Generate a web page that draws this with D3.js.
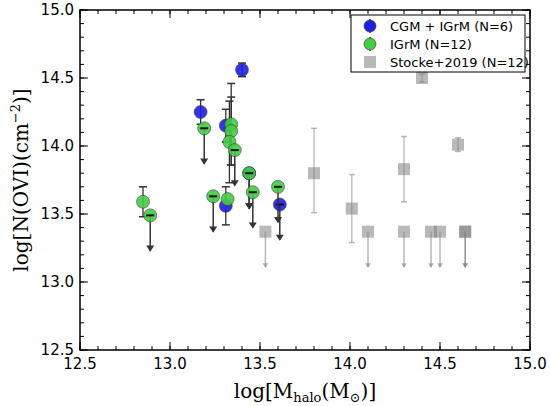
<!DOCTYPE html>
<html><head><meta charset="utf-8">
<script src="https://cdn.jsdelivr.net/npm/d3@7"></script>
<style>body{margin:0;background:#fff}text{font-family:"DejaVu Sans",sans-serif}</style>
</head><body><svg id="c" width="550" height="406"></svg>
<script>
// blue: CGM + IGrM
const blueM = [13.40, 13.17, 13.31, 13.31, 13.44, 13.61];
const blueN = [14.56, 14.25, 14.15, 13.56, 13.80, 13.57];
const blueErr = [0.05, 0.09, 0.12, 0.14, 0, 0];
const blueLim = [0, 0, 0, 0, 1, 1];
const greenM = [12.85, 12.89, 13.19, 13.24, 13.32, 13.34, 13.34, 13.33, 13.36, 13.44, 13.46, 13.60];
const greenN = [13.59, 13.49, 14.13, 13.63, 13.61, 14.16, 14.11, 14.03, 13.97, 13.80, 13.66, 13.70];
const greenErr = [0.11, 0, 0, 0, 0, 0.3, 0.25, 0.3, 0, 0, 0, 0];
const greenLim = [0, 1, 1, 1, 0, 0, 0, 0, 1, 1, 1, 1];
const greyM = [13.53, 13.80, 14.01, 14.10, 14.30, 14.30, 14.40, 14.45, 14.50, 14.60, 14.64, 14.64];
const greyN = [13.37, 13.80, 13.54, 13.37, 13.83, 13.37, 14.50, 13.37, 13.37, 14.01, 13.37, 13.37];
const greyUp = [0, 0.33, 0.25, 0, 0.24, 0, 0.03, 0, 0, 0.05, 0, 0];
const greyDn = [0, 0.29, 0.25, 0, 0.24, 0, 0.03, 0, 0, 0.05, 0, 0];
const greyLim = [1, 0, 0, 1, 0, 1, 0, 1, 1, 0, 1, 1];
const limLen = 0.26;

const svg = d3.select('#c');
const x = d3.scaleLinear().domain([12.5, 15]).range([80, 530]);
const y = d3.scaleLinear().domain([12.5, 15]).range([350, 10]);

// ticks
const major = d3.range(12.5, 15.01, 0.5), minor = d3.range(12.5, 15.01, 0.1);
const g = svg.append('g');
minor.forEach(v => {
  g.append('line').attr('x1', x(v)).attr('x2', x(v)).attr('y1', 350).attr('y2', 346).attr('stroke', '#000');
  g.append('line').attr('x1', x(v)).attr('x2', x(v)).attr('y1', 10).attr('y2', 14).attr('stroke', '#000');
  g.append('line').attr('y1', y(v)).attr('y2', y(v)).attr('x1', 80).attr('x2', 84).attr('stroke', '#000');
  g.append('line').attr('y1', y(v)).attr('y2', y(v)).attr('x1', 530).attr('x2', 526).attr('stroke', '#000');
});
major.forEach(v => {
  g.append('line').attr('x1', x(v)).attr('x2', x(v)).attr('y1', 350).attr('y2', 342).attr('stroke', '#000');
  g.append('line').attr('x1', x(v)).attr('x2', x(v)).attr('y1', 10).attr('y2', 18).attr('stroke', '#000');
  g.append('line').attr('y1', y(v)).attr('y2', y(v)).attr('x1', 80).attr('x2', 88).attr('stroke', '#000');
  g.append('line').attr('y1', y(v)).attr('y2', y(v)).attr('x1', 530).attr('x2', 522).attr('stroke', '#000');
  g.append('text').attr('x', x(v)).attr('y', 369).attr('text-anchor', 'middle').attr('font-size', 15).text(v.toFixed(1));
  g.append('text').attr('x', 74).attr('y', y(v) + 5).attr('text-anchor', 'end').attr('font-size', 15).text(v.toFixed(1));
});

function arrow(px, py0, py1, col, op, head) {
  svg.append('line').attr('x1', px).attr('x2', px).attr('y1', py0).attr('y2', py1).attr('stroke', col).attr('stroke-width', 1.5).attr('opacity', op);
  svg.append('path').attr('d', `M${px - head},${py1 - head * 1.3}L${px + head},${py1 - head * 1.3}L${px},${py1 + 1}Z`).attr('fill', col).attr('opacity', op);
}
function errbar(px, y0, y1, col, op, cap) {
  svg.append('line').attr('x1', px).attr('x2', px).attr('y1', y0).attr('y2', y1).attr('stroke', col).attr('stroke-width', 1.3).attr('opacity', op);
  [y0, y1].forEach(v => svg.append('line').attr('x1', px - cap).attr('x2', px + cap).attr('y1', v).attr('y2', v).attr('stroke', col).attr('stroke-width', 1.5).attr('opacity', op));
}

// grey Stocke points
greyM.forEach((m, i) => {
  const px = x(m), py = y(greyN[i]);
  if (greyLim[i]) arrow(px, py, y(greyN[i] - limLen), '#808080', 0.55, 3);
  else errbar(px, y(greyN[i] + greyUp[i]), y(greyN[i] - greyDn[i]), '#808080', 0.55, 3);
  svg.append('rect').attr('x', px - 6).attr('y', py - 6).attr('width', 12).attr('height', 12).attr('fill', '#808080').attr('opacity', 0.55);
});

function ours(M, N, E, L, fill) {
  M.forEach((m, i) => {
    const px = x(m), py = y(N[i]);
    if (L[i]) arrow(px, py, y(N[i] - limLen), '#333', 1, 4);
    else if (E[i] > 0) errbar(px, y(N[i] + E[i]), y(N[i] - E[i]), '#333', 1, 4);
  });
  M.forEach((m, i) => {
    const px = x(m), py = y(N[i]);
    svg.append('circle').attr('cx', px).attr('cy', py).attr('r', 6.5).attr('fill', fill).attr('stroke', '#333').attr('stroke-width', 0.6).attr('opacity', 0.9);
    if (L[i]) svg.append('line').attr('x1', px - 4).attr('x2', px + 4).attr('y1', py).attr('y2', py).attr('stroke', '#111').attr('stroke-width', 2);
  });
}
ours(blueM, blueN, blueErr, blueLim, '#1f1fe0');
ours(greenM, greenN, greenErr, greenLim, '#44cc44');

svg.append('rect').attr('x', 80).attr('y', 10).attr('width', 450).attr('height', 340).attr('fill', 'none').attr('stroke', '#000').attr('stroke-width', 1.5);

// legend
const leg = svg.append('g');
leg.append('rect').attr('x', 351).attr('y', 15).attr('width', 174).attr('height', 57).attr('fill', '#fff').attr('stroke', '#000');
[['CGM + IGrM (N=6)', '#1f1fe0'], ['IGrM (N=12)', '#44cc44'], ['Stocke+2019 (N=12)', null]].forEach((d, i) => {
  const ly = 26 + i * 18;
  if (d[1]) {
    leg.append('line').attr('x1', 370).attr('x2', 370).attr('y1', ly - 7).attr('y2', ly + 7).attr('stroke', '#333').attr('stroke-width', 1.5);
    leg.append('circle').attr('cx', 370).attr('cy', ly).attr('r', 6).attr('fill', d[1]).attr('stroke', '#333').attr('stroke-width', 0.6);
  } else {
    leg.append('rect').attr('x', 364).attr('y', ly - 6).attr('width', 12).attr('height', 12).attr('fill', '#808080').attr('opacity', 0.55);
  }
  leg.append('text').attr('x', 390).attr('y', ly + 4.5).attr('font-size', 13).text(d[0]);
});

// axis labels
svg.append('text').attr('x', 305).attr('y', 398).attr('text-anchor', 'middle').style('font-family', 'DejaVu Serif').attr('font-size', 20)
  .html('log[M<tspan font-size="13" dy="4">halo</tspan><tspan dy="-4">(M</tspan><tspan font-size="13" dy="4">⊙</tspan><tspan dy="-4">)]</tspan>');
svg.append('text').attr('transform', 'translate(28,180) rotate(-90)').attr('text-anchor', 'middle').style('font-family', 'DejaVu Serif').attr('font-size', 20)
  .html('log[N(OVI)(cm<tspan font-size="13" dy="-8">−2</tspan><tspan dy="8">)]</tspan>');
</script></body></html>
